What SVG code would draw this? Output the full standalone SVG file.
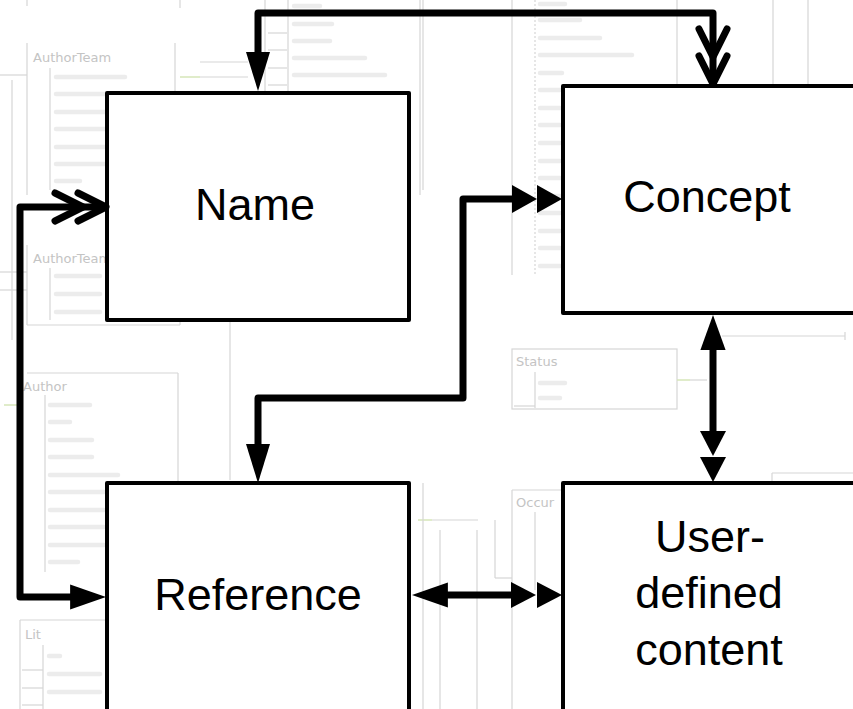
<svg xmlns="http://www.w3.org/2000/svg" xmlns:xlink="http://www.w3.org/1999/xlink" width="853" height="709" viewBox="0 0 853 709">
  <style>
    .bgl { stroke: #d6d6d6; stroke-width: 1.2; fill: none; }
    .bgr { stroke: #ececec; stroke-width: 4.5; stroke-linecap: round; fill: none; }
    .bgg { stroke: #d6e6b8; stroke-width: 1.5; fill: none; }
    .bgt { font-family: "DejaVu Sans", sans-serif; font-size: 13px; fill: #c4c4c4; }
    .box { fill: #ffffff; stroke: #000000; stroke-width: 4; stroke-linejoin: round; }
    .lbl { font-family: "Liberation Sans", Arial, sans-serif; font-size: 45px; fill: #000000; text-anchor: middle; }
    .conn { stroke: #000000; stroke-width: 7; fill: none; stroke-linejoin: round; stroke-linecap: butt; }
    .tri { fill: #000000; stroke: none; }
    .chev { stroke: #000000; stroke-width: 7; fill: none; stroke-linecap: round; stroke-linejoin: round; }
  </style>
  <defs>
    <path id="triL" d="M0,0 L-39,-12 L-39,12 Z"/>
    <path id="triS" d="M0,0 L-25,-13 L-25,13 Z"/>
    <path id="chev" d="M-28,-14 L0,0 L-28,14"/>
  </defs>
  <rect x="0" y="0" width="853" height="709" fill="#ffffff"/>

  <!-- faded background schema -->
  <g id="background">
    <line class="bgl" x1="180" y1="0" x2="180" y2="8"/>
    <line class="bgl" x1="27" y1="0" x2="27" y2="6"/>
    <!-- AuthorTeam -->
    <line class="bgl" x1="27" y1="43" x2="27" y2="195"/>
    <line class="bgl" x1="50" y1="68" x2="50" y2="190"/>
    <line class="bgl" x1="175" y1="43" x2="175" y2="197"/>
    <text class="bgt" x="33" y="62">AuthorTeam</text>
    <line class="bgr" x1="56" y1="77" x2="125" y2="77"/>
    <line class="bgr" x1="56" y1="94" x2="105" y2="94"/>
    <line class="bgr" x1="56" y1="112" x2="105" y2="112"/>
    <line class="bgr" x1="56" y1="129" x2="105" y2="129"/>
    <line class="bgr" x1="56" y1="147" x2="105" y2="147"/>
    <line class="bgr" x1="56" y1="164" x2="105" y2="164"/>
    <line class="bgr" x1="56" y1="181" x2="80" y2="181"/>
    <line class="bgl" x1="0" y1="75" x2="27" y2="75"/>
    <line class="bgl" x1="12" y1="80" x2="12" y2="340"/>
    <line class="bgg" x1="180" y1="77" x2="200" y2="77"/>
    <line class="bgl" x1="200" y1="62" x2="248" y2="62"/>
    <line class="bgl" x1="200" y1="77" x2="248" y2="77"/>
    <!-- table right of Name -->
    <line class="bgl" x1="265" y1="0" x2="265" y2="195"/>
    <line class="bgl" x1="288" y1="0" x2="288" y2="195"/>
    <line class="bgl" x1="420" y1="0" x2="420" y2="195"/>
    <line class="bgl" x1="268" y1="33" x2="287" y2="33"/>
    <line class="bgl" x1="268" y1="50" x2="287" y2="50"/>
    <line class="bgl" x1="268" y1="68" x2="287" y2="68"/>
    <line class="bgl" x1="268" y1="85" x2="287" y2="85"/>
    <line class="bgr" x1="294" y1="6" x2="320" y2="6"/>
    <line class="bgr" x1="294" y1="24" x2="332" y2="24"/>
    <line class="bgr" x1="294" y1="41" x2="330" y2="41"/>
    <line class="bgr" x1="294" y1="58" x2="365" y2="58"/>
    <line class="bgr" x1="294" y1="75" x2="385" y2="75"/>
    <!-- verticals -->
    <line class="bgl" x1="423" y1="0" x2="423" y2="190"/>
    <line class="bgl" x1="512" y1="0" x2="512" y2="275"/>
    <line class="bgl" x1="535" y1="0" x2="535" y2="275" stroke-dasharray="2,2"/>
    <line class="bgl" x1="677" y1="0" x2="677" y2="86"/>
    <line class="bgl" x1="773" y1="0" x2="773" y2="86"/>
    <line class="bgl" x1="808" y1="0" x2="808" y2="86"/>
    <line class="bgr" x1="540" y1="4" x2="565" y2="4"/>
    <line class="bgr" x1="540" y1="20" x2="580" y2="20"/>
    <line class="bgr" x1="540" y1="38" x2="600" y2="38"/>
    <line class="bgr" x1="540" y1="55" x2="632" y2="55"/>
    <line class="bgr" x1="540" y1="73" x2="562" y2="73"/>
    <line class="bgr" x1="540" y1="90" x2="560" y2="90"/>
    <line class="bgr" x1="540" y1="108" x2="560" y2="108"/>
    <line class="bgr" x1="540" y1="125" x2="560" y2="125"/>
    <line class="bgr" x1="540" y1="143" x2="560" y2="143"/>
    <line class="bgr" x1="540" y1="161" x2="560" y2="161"/>
    <line class="bgr" x1="540" y1="178" x2="560" y2="178"/>
    <line class="bgr" x1="540" y1="196" x2="560" y2="196"/>
    <line class="bgr" x1="540" y1="213" x2="560" y2="213"/>
    <line class="bgr" x1="540" y1="231" x2="560" y2="231"/>
    <line class="bgr" x1="540" y1="248" x2="560" y2="248"/>
    <line class="bgr" x1="540" y1="266" x2="560" y2="266"/>
    <!-- AuthorTeam (2) -->
    <line class="bgl" x1="27" y1="245" x2="27" y2="325"/>
    <line class="bgl" x1="50" y1="268" x2="50" y2="320"/>
    <line class="bgl" x1="27" y1="325" x2="180" y2="325"/>
    <line class="bgl" x1="180" y1="245" x2="180" y2="325"/>
    <text class="bgt" x="33" y="263">AuthorTeam</text>
    <line class="bgr" x1="56" y1="276" x2="100" y2="276"/>
    <line class="bgr" x1="56" y1="294" x2="100" y2="294"/>
    <line class="bgr" x1="56" y1="312" x2="100" y2="312"/>
    <line class="bgl" x1="0" y1="272" x2="27" y2="272"/>
    <line class="bgl" x1="0" y1="290" x2="27" y2="290"/>
    <!-- Author -->
    <line class="bgl" x1="27" y1="373" x2="178" y2="373"/>
    <line class="bgl" x1="178" y1="373" x2="178" y2="580"/>
    <line class="bgl" x1="45" y1="395" x2="45" y2="572"/>
    <text class="bgt" x="23" y="391">Author</text>
    <line class="bgr" x1="50" y1="405" x2="90" y2="405"/>
    <line class="bgr" x1="50" y1="422" x2="70" y2="422"/>
    <line class="bgr" x1="50" y1="440" x2="92" y2="440"/>
    <line class="bgr" x1="50" y1="457" x2="92" y2="457"/>
    <line class="bgr" x1="50" y1="475" x2="118" y2="475"/>
    <line class="bgr" x1="50" y1="492" x2="104" y2="492"/>
    <line class="bgr" x1="50" y1="510" x2="104" y2="510"/>
    <line class="bgr" x1="50" y1="527" x2="104" y2="527"/>
    <line class="bgr" x1="50" y1="545" x2="104" y2="545"/>
    <line class="bgr" x1="50" y1="562" x2="78" y2="562"/>
    <line class="bgg" x1="4" y1="405" x2="20" y2="405"/>
    <line class="bgl" x1="230" y1="300" x2="230" y2="480"/>
    <!-- Status -->
    <rect class="bgl" x="512" y="349" width="165" height="60"/>
    <line class="bgl" x1="535" y1="372" x2="535" y2="408"/>
    <line class="bgl" x1="514" y1="406" x2="535" y2="406"/>
    <text class="bgt" x="516" y="366">Status</text>
    <line class="bgr" x1="540" y1="383" x2="565" y2="383"/>
    <line class="bgr" x1="540" y1="398" x2="560" y2="398"/>
    <line class="bgg" x1="677" y1="380" x2="690" y2="380"/>
    <line class="bgl" x1="690" y1="380" x2="707" y2="380"/>
    <line class="bgl" x1="722" y1="336" x2="845" y2="336"/>
    <line class="bgl" x1="845" y1="332" x2="845" y2="340"/>
    <!-- right box -->
    <line class="bgl" x1="772" y1="473" x2="853" y2="473"/>
    <line class="bgl" x1="772" y1="473" x2="772" y2="483"/>
    <!-- Occur -->
    <line class="bgl" x1="512" y1="490" x2="563" y2="490"/>
    <line class="bgl" x1="512" y1="490" x2="512" y2="709"/>
    <line class="bgl" x1="535" y1="512" x2="535" y2="590"/>
    <text class="bgt" x="516" y="507">Occur</text>
    <line class="bgg" x1="418" y1="520" x2="432" y2="520"/>
    <line class="bgl" x1="432" y1="520" x2="478" y2="520"/>
    <line class="bgl" x1="495" y1="520" x2="495" y2="578"/>
    <line class="bgl" x1="495" y1="578" x2="512" y2="578"/>
    <line class="bgl" x1="423" y1="483" x2="423" y2="709"/>
    <line class="bgl" x1="440" y1="530" x2="440" y2="709"/>
    <line class="bgl" x1="477" y1="530" x2="477" y2="709"/>
    <!-- Lit -->
    <line class="bgl" x1="20" y1="620" x2="107" y2="620"/>
    <line class="bgl" x1="20" y1="620" x2="20" y2="709"/>
    <line class="bgl" x1="43" y1="645" x2="43" y2="709"/>
    <line class="bgl" x1="22" y1="670" x2="43" y2="670"/>
    <line class="bgl" x1="22" y1="688" x2="43" y2="688"/>
    <line class="bgl" x1="22" y1="705" x2="43" y2="705"/>
    <text class="bgt" x="25" y="639">Lit</text>
    <line class="bgr" x1="49" y1="656" x2="60" y2="656"/>
    <line class="bgr" x1="49" y1="674" x2="100" y2="674"/>
    <line class="bgr" x1="49" y1="692" x2="100" y2="692"/>
  </g>

  <!-- nodes -->
  <g id="node-name">
    <rect class="box" x="107" y="93" width="302" height="227"/>
    <text class="lbl" x="255" y="220">Name</text>
  </g>
  <g id="node-concept">
    <rect class="box" x="563" y="86" width="300" height="227"/>
    <text class="lbl" x="707" y="212">Concept</text>
  </g>
  <g id="node-reference">
    <rect class="box" x="107" y="483" width="302" height="240"/>
    <text class="lbl" x="258" y="610">Reference</text>
  </g>
  <g id="node-user">
    <rect class="box" x="563" y="483" width="300" height="240"/>
    <text class="lbl" x="710" y="552">User-</text>
    <text class="lbl" x="709" y="608">defined</text>
    <text class="lbl" x="709" y="665">content</text>
  </g>

  <!-- connectors -->
  <g id="connectors">
    <!-- Name top <-> Concept top -->
    <path class="conn" d="M258,60 V13 H713 V82"/>
    <use href="#triL" xlink:href="#triL" class="tri" transform="translate(258,91) rotate(90)"/>
    <use href="#chev" xlink:href="#chev" class="chev" transform="translate(713,57) rotate(90)"/>
    <use href="#chev" xlink:href="#chev" class="chev" transform="translate(713,84) rotate(90)"/>

    <!-- Reference left <-> Name left -->
    <path class="conn" d="M75,597 H20 V207 H104"/>
    <use href="#triL" xlink:href="#triL" class="tri" transform="translate(106,597) scale(0.92,1.05)"/>
    <use href="#chev" xlink:href="#chev" class="chev" transform="translate(83,207)"/>
    <use href="#chev" xlink:href="#chev" class="chev" transform="translate(106,207)"/>

    <!-- Reference top <-> Concept left -->
    <path class="conn" d="M258,450 V398 H463 V199 H518"/>
    <use href="#triL" xlink:href="#triL" class="tri" transform="translate(258,483) rotate(90)"/>
    <use href="#triS" xlink:href="#triS" class="tri" transform="translate(537,199) scale(1,1.08)"/>
    <use href="#triS" xlink:href="#triS" class="tri" transform="translate(562,199) scale(1,1.08)"/>

    <!-- Concept bottom <-> User top -->
    <path class="conn" d="M713,345 V440"/>
    <use href="#triL" xlink:href="#triL" class="tri" transform="translate(713,315) rotate(-90) scale(0.9,1.05)"/>
    <use href="#triS" xlink:href="#triS" class="tri" transform="translate(713,456) rotate(90)"/>
    <use href="#triS" xlink:href="#triS" class="tri" transform="translate(713,482) rotate(90)"/>

    <!-- Reference right <-> User left -->
    <path class="conn" d="M442,595 H515"/>
    <use href="#triL" xlink:href="#triL" class="tri" transform="translate(412,595) rotate(180) scale(0.92,1.05)"/>
    <use href="#triS" xlink:href="#triS" class="tri" transform="translate(536,595)"/>
    <use href="#triS" xlink:href="#triS" class="tri" transform="translate(562,595)"/>
  </g>
</svg>
